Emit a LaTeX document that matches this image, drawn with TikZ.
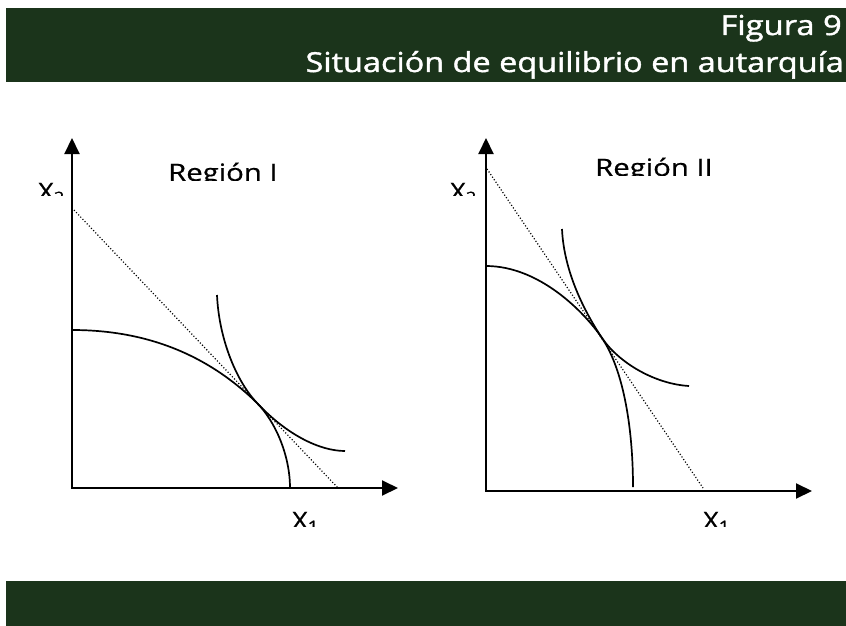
\documentclass[tikz,border=0pt]{standalone}
\usepackage{fontspec}
\setmainfont{Open Sans}
\newfontfamily\headfont[FakeBold=1.3]{Open Sans}
\newfontfamily\lblfont[FakeBold=0.6]{Open Sans}
\usetikzlibrary{arrows.meta}
\definecolor{band}{RGB}{27,52,27}
\begin{document}
\begin{tikzpicture}[x=1pt,y=-1pt,
  axis/.style={line width=2pt,{Triangle[length=16pt,width=15pt]}-{Triangle[length=16pt,width=15pt]}},
  curve/.style={line width=1.7pt},
  budget/.style={line width=1.2pt,dash pattern=on 1.1pt off 2pt},
  lbl/.style={inner sep=0pt,font=\lblfont\fontsize{24}{28}\selectfont},
  head/.style={inner sep=0pt,text=white,font=\headfont\fontsize{27.5}{32}\selectfont}]
\useasboundingbox (0,0) rectangle (846,626);
% bands
\fill[band] (6,8) rectangle (846,82);
\fill[band] (6,581) rectangle (846,626);
\node[head,anchor=base east] (fig) at (842,35) {\scalebox{1.19}[1]{Figura 9}};
\node[head,anchor=base east] (tit) at (844,72) {\scalebox{1.18}[1]{Situación de equilibrio en autarquía}};
% ---------- left chart
\coordinate (O1) at (72,488);
\coordinate (Y1) at (72,138);
\coordinate (X1) at (398,488);
\coordinate (B1s) at (74,210);
\coordinate (B1e) at (338,488);
\coordinate (T1) at (257,403);
\draw[axis] (Y1) -- (O1) -- (X1);
\draw[budget] (B1s) -- (B1e);
\draw[curve] (72,330) .. controls (150,330) and (210,357) .. (T1)
  .. controls (275,421) and (290,455) .. (290,488);
\draw[curve] (217,295) .. controls (219,340) and (237,382) .. (T1)
  .. controls (287,435) and (320,451) .. (345,451);
\begin{scope}\clip (140,140) rectangle (320,180);
\node[lbl,anchor=base west] (r1) at (168,181) {\scalebox{1.22}[1]{Región I}};\end{scope}
\begin{scope}\clip (20,170) rectangle (70,195);
\node[lbl,anchor=base west] (y1l) at (38,200) {\scalebox{1.12}[1]{X\textsubscript{2}}};\end{scope}
\begin{scope}\clip (270,500) rectangle (340,526);
\node[lbl,anchor=base west] (x1l) at (292,529) {\scalebox{1.12}[1]{X\textsubscript{1}}};\end{scope}
% ---------- right chart
\coordinate (O2) at (486,491);
\coordinate (Y2) at (486,138);
\coordinate (X2) at (812,491);
\coordinate (B2s) at (487,169);
\coordinate (B2e) at (703,488);
\coordinate (T2) at (602,338);
\draw[axis] (Y2) -- (O2) -- (X2);
\draw[budget] (B2s) -- (B2e);
\draw[curve] (486,266) .. controls (540,266) and (585,313) .. (T2)
  .. controls (624,371) and (633,430) .. (633,487);
\draw[curve] (562,229) .. controls (564,275) and (588,317) .. (T2)
  .. controls (619,363) and (655,384) .. (689,386);
\begin{scope}\clip (570,140) rectangle (760,175);
\node[lbl,anchor=base west] (r2) at (595,176) {\scalebox{1.22}[1]{Región II}};\end{scope}
\begin{scope}\clip (430,170) rectangle (484,195);
\node[lbl,anchor=base west] (y2l) at (450,200) {\scalebox{1.12}[1]{X\textsubscript{2}}};\end{scope}
\begin{scope}\clip (680,500) rectangle (750,526);
\node[lbl,anchor=base west] (x2l) at (703,529) {\scalebox{1.12}[1]{X\textsubscript{1}}};\end{scope}
\end{tikzpicture}
\end{document}
